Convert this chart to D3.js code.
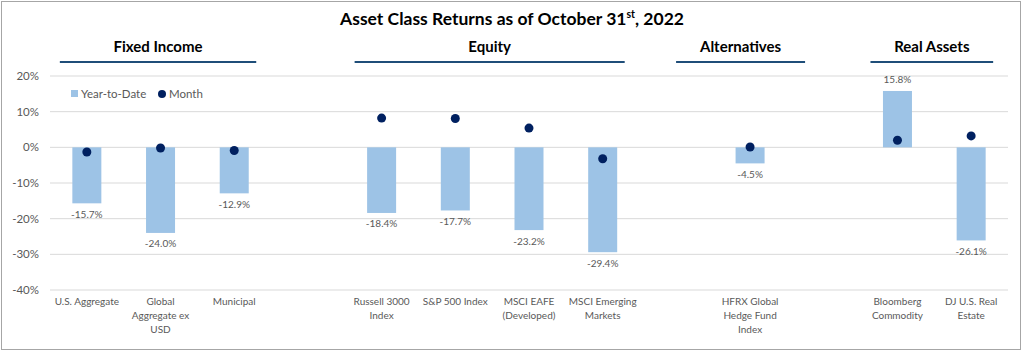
<!DOCTYPE html>
<html>
<head>
<meta charset="utf-8">
<script src="https://cdn.jsdelivr.net/npm/d3@7"></script>
<style>
  body { margin: 0; background: #fff; }
  svg { display: block; font-family: Lato, "Open Sans", sans-serif; }
</style>
</head>
<body>
<div id="chart"></div>
<script>
// categories (blank slots keep the gaps between groups)
var categories = ["U.S. Aggregate", "Global|Aggregate ex|USD", "Municipal", "",
                  "Russell 3000|Index", "S&P 500 Index", "MSCI EAFE|(Developed)", "MSCI Emerging|Markets", " ",
                  "HFRX Global|Hedge Fund|Index", "  ",
                  "Bloomberg|Commodity", "DJ U.S. Real|Estate"];
var ytd   = [-15.7, -24.0, -12.9, null, -18.4, -17.7, -23.2, -29.4, null, -4.5, null, 15.8, -26.1];
var month = [-1.3, -0.2, -0.9, null, 8.2, 8.1, 5.4, -3.2, null, 0.1, null, 2.0, 3.2];
var groups = ["Fixed Income", "Equity", "Alternatives", "Real Assets"];
var groupMembers = [[0, 2], [4, 7], [9, 9], [11, 12]];
var yTicks = [20, 10, 0, -10, -20, -30, -40];

var width = 1024, height = 352;
var margin = {top: 76, right: 16, bottom: 62, left: 50};

var svg = d3.select("#chart")
			.append("svg")
			.attr("width", width)
			.attr("height", height);

svg.append("rect")
	.attr("x", 1.5).attr("y", 1.5)
	.attr("width", 1019).attr("height", 348)
	.attr("fill", "none")
	.attr("stroke", "#a6a6a6");

var x = d3.scaleBand()
			.domain(categories)
			.range([margin.left, width - margin.right]);

var y = d3.scaleLinear()
			.domain([-40, 20])
			.range([height - margin.bottom, margin.top]);

var cx = d => x(d) + x.bandwidth() / 2;
var barW = 29;

// gridlines + y labels
svg.append("g")
	.selectAll("line")
	.data(yTicks)
	.join("line")
	.attr("x1", margin.left).attr("x2", width - margin.right)
	.attr("y1", d => y(d)).attr("y2", d => y(d))
	.attr("stroke", "#d9d9d9");

svg.append("g")
	.selectAll("text")
	.data(yTicks)
	.join("text")
	.attr("x", 39)
	.attr("y", d => y(d))
	.attr("dy", "0.35em")
	.attr("text-anchor", "end")
	.attr("font-size", 11.5)
	.attr("fill", "#595959")
	.text(d => d + "%");

var rows = categories.map((c, i) => ({c: c, ytd: ytd[i], month: month[i]})).filter(d => d.ytd != null);

// bars
svg.append("g")
	.selectAll("rect")
	.data(rows)
	.join("rect")
	.attr("x", d => cx(d.c) - barW / 2)
	.attr("y", d => y(Math.max(0, d.ytd)))
	.attr("width", barW)
	.attr("height", d => Math.abs(y(d.ytd) - y(0)))
	.attr("fill", "#9dc3e6");

// value labels
svg.append("g")
	.selectAll("text")
	.data(rows)
	.join("text")
	.attr("x", d => cx(d.c))
	.attr("y", d => d.ytd < 0 ? y(d.ytd) + 11 : y(d.ytd) - 11)
	.attr("dy", "0.35em")
	.attr("text-anchor", "middle")
	.attr("font-size", 10)
	.attr("fill", "#595959")
	.text(d => d.ytd.toFixed(1) + "%");

// month dots
svg.append("g")
	.selectAll("circle")
	.data(rows)
	.join("circle")
	.attr("cx", d => cx(d.c))
	.attr("cy", d => y(d.month))
	.attr("r", 4.5)
	.attr("fill", "#002060");

// category labels
svg.append("g")
	.selectAll("text")
	.data(rows)
	.join("text")
	.attr("x", d => cx(d.c))
	.attr("y", 305)
	.attr("text-anchor", "middle")
	.attr("font-size", 10)
	.attr("fill", "#595959")
	.selectAll("tspan")
	.data(d => d.c.split("|").map(t => ({t: t, x: cx(d.c)})))
	.join("tspan")
	.attr("x", d => d.x)
	.attr("dy", (d, i) => i ? 14 : 0)
	.text(d => d.t);

// title
var title = svg.append("text")
	.attr("x", 512).attr("y", 25)
	.attr("text-anchor", "middle")
	.attr("font-size", 17.5)
	.attr("font-weight", "bold")
	.attr("fill", "#000");
title.append("tspan").text("Asset Class Returns as of October 31");
title.append("tspan").attr("font-size", 10.5).attr("dy", -7).text("st");
title.append("tspan").attr("dy", 7).text(", 2022");

// group headers
groups.forEach(function(g, i) {
	var a = cx(categories[groupMembers[i][0]]), b = cx(categories[groupMembers[i][1]]);
	var x1 = a - 27, x2 = b + 22;
	if (a === b) { x1 = a - 74; x2 = a + 55; }
	var mid = (x1 + x2) / 2;
	svg.append("text")
		.attr("x", mid).attr("y", 52)
		.attr("text-anchor", "middle")
		.attr("font-size", 15)
		.attr("font-weight", "bold")
		.attr("fill", "#000")
		.text(g);
	svg.append("line")
		.attr("x1", x1).attr("x2", x2)
		.attr("y1", 62).attr("y2", 62)
		.attr("stroke", "#1f4e79")
		.attr("stroke-width", 2);
});

// legend
var legend = svg.append("g").attr("font-size", 11.5).attr("fill", "#595959");
legend.append("rect").attr("x", 71).attr("y", 90).attr("width", 7).attr("height", 7).attr("fill", "#9dc3e6");
legend.append("text").attr("x", 81).attr("y", 94).attr("dy", "0.35em").text("Year-to-Date");
legend.append("circle").attr("cx", 162).attr("cy", 94).attr("r", 4).attr("fill", "#002060");
legend.append("text").attr("x", 169).attr("y", 94).attr("dy", "0.35em").text("Month");
</script>
</body>
</html>
